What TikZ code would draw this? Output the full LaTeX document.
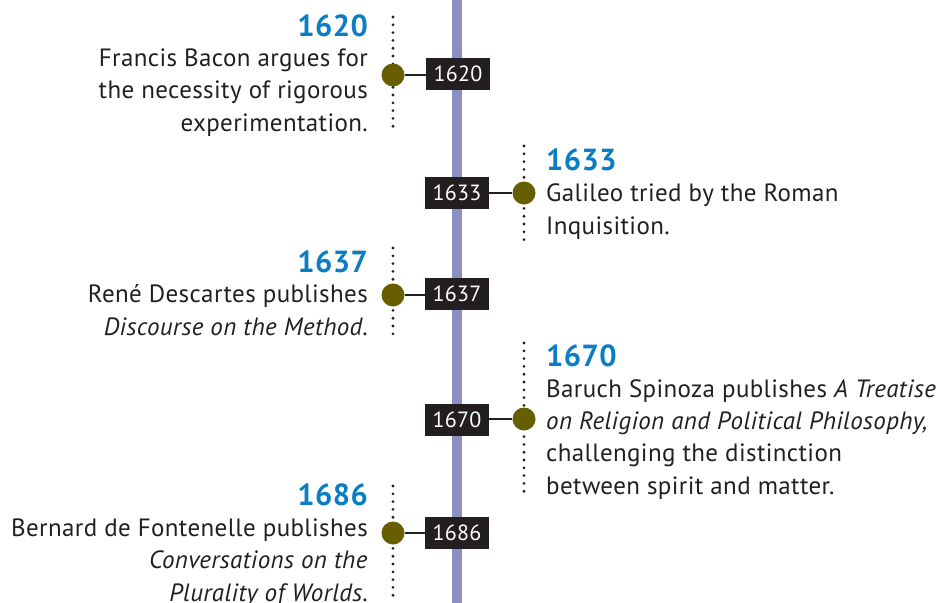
\documentclass[tikz,border=0pt]{standalone}
\usepackage{fontspec}
\setmainfont{PT Sans}[LetterSpace=1.5]
\definecolor{barblue}{RGB}{139,144,193}
\definecolor{boxblack}{RGB}{35,31,32}
\definecolor{dotolive}{RGB}{102,94,0}
\definecolor{headblue}{RGB}{11,125,194}
\definecolor{inkgray}{RGB}{35,31,32}

\begin{document}
\begin{tikzpicture}[x=1pt, y=-1pt,
  yearbox/.style={fill=boxblack, text=white, inner sep=0pt, minimum width=64pt, minimum height=32pt, font=\fontsize{22}{24}\selectfont},
  evdot/.style={circle, fill=dotolive, inner sep=0pt, minimum size=23pt},
  stem/.style={draw=inkgray, line width=2.5pt},
  dotline/.style={draw=inkgray, line width=3.1pt, line cap=round, dash pattern=on 0pt off 7.8pt},
  yearhead/.style={inner sep=0pt, text=headblue, font=\fontsize{30.5}{36}\bfseries\selectfont},
  evtext/.style={inner sep=0pt, text=inkgray, font=\fontsize{25}{32.2}\selectfont}]

  %% ════ 时间轴 ════
  \fill[barblue] (452,0) rectangle (462,603);

  %% ════ 虚线刻度（左 393，右 524）════
  \coordinate (t1620) at (393,17);  \coordinate (u1620) at (393,132);
  \coordinate (t1633) at (524,146); \coordinate (u1633) at (524,240);
  \coordinate (t1637) at (393,248); \coordinate (u1637) at (393,340);
  \coordinate (t1670) at (524,343); \coordinate (u1670) at (524,497);
  \coordinate (t1686) at (393,486); \coordinate (u1686) at (393,598);
  \draw[dotline] (t1620) -- (u1620);
  \draw[dotline] (t1633) -- (u1633);
  \draw[dotline] (t1637) -- (u1637);
  \draw[dotline] (t1670) -- (u1670);
  \draw[dotline] (t1686) -- (u1686);

  %% ════ 年份框与圆点 ════
  \node[yearbox] (yr1620) at (458,74) {1620};
  \node[evdot]   (dot1620) at (393,75) {};
  \node[yearbox] (yr1633) at (457,193) {1633};
  \node[evdot]   (dot1633) at (524,193) {};
  \node[yearbox] (yr1637) at (457,294) {1637};
  \node[evdot]   (dot1637) at (393,295) {};
  \node[yearbox] (yr1670) at (457,420) {1670};
  \node[evdot]   (dot1670) at (524,419) {};
  \node[yearbox] (yr1686) at (457,533) {1686};
  \node[evdot]   (dot1686) at (393,533) {};

  % 连线：圆点 → 年份框
  \draw[stem] (dot1620) -- (dot1620 -| yr1620.west);
  \draw[stem] (dot1633) -- (dot1633 -| yr1633.east);
  \draw[stem] (dot1637) -- (dot1637 -| yr1637.west);
  \draw[stem] (dot1670) -- (dot1670 -| yr1670.east);
  \draw[stem] (dot1686) -- (dot1686 -| yr1686.west);

  %% ════ 标题与说明（左侧右对齐 368，右侧左对齐 546）════
  %% base 锚点落在多行文字的最后一行
  \node[yearhead, anchor=base east] (head1620) at (368,36) {1620};
  \node[evtext, anchor=base east, align=right] (text1620) at (368,131)
    {Francis Bacon argues for\\the necessity of rigorous\\experimentation.};

  \node[yearhead, anchor=base west] (head1633) at (546,170) {1633};
  \node[evtext, anchor=base west, align=left] (text1633) at (546,234)
    {Galileo tried by the Roman\\Inquisition.};

  \node[yearhead, anchor=base east] (head1637) at (368,272) {1637};
  \node[evtext, anchor=base east, align=right] (text1637) at (368,335)
    {René Descartes publishes\\\textit{Discourse on the Method}.};

  \node[yearhead, anchor=base west] (head1670) at (546,366) {1670};
  \node[evtext, anchor=base west, align=left] (text1670) at (546,494)
    {Baruch Spinoza publishes \textit{A Treatise}\\\textit{on Religion and Political Philosophy,}\\challenging the distinction\\between spirit and matter.};

  \node[yearhead, anchor=base east] (head1686) at (368,505) {1686};
  \node[evtext, anchor=base east, align=right] (text1686) at (368,601)
    {Bernard de Fontenelle publishes\\\textit{Conversations on the}\\\textit{Plurality of Worlds}.};

  % 钉死画布
  \pgfresetboundingbox
  \path[use as bounding box] (0,0) rectangle (938,603);
\end{tikzpicture}
\end{document}
